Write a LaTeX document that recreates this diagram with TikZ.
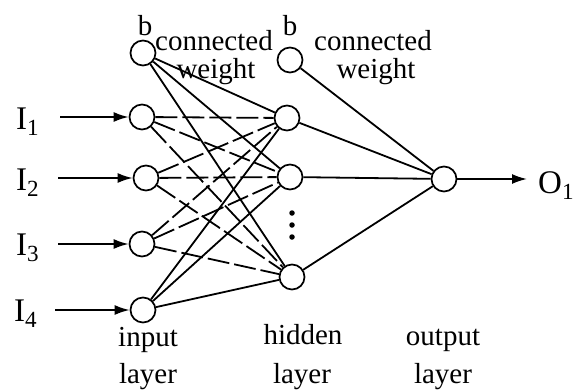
\documentclass[tikz,border=0pt]{standalone}
\usepackage{fontspec}
\setmainfont{Liberation Serif}
\usetikzlibrary{arrows.meta}
\begin{document}
\begin{tikzpicture}[x=1pt,y=-1pt,
  neuron/.style={circle,draw,line width=1.7pt,minimum size=25pt,inner sep=0pt},
  wire/.style={line width=1.8pt},
  brokenwire/.style={line width=1.8pt,dash pattern=on 22pt off 5pt},
  inarrow/.style={line width=1.8pt,-{Latex[length=15pt,width=10pt]}},
  dotmark/.style={circle,fill,minimum size=5.5pt,inner sep=0pt},
  lbl/.style={font=\fontsize{29}{31}\selectfont,inner sep=0pt,anchor=base},
  iolbl/.style={font=\fontsize{33}{35}\selectfont,inner sep=0pt,anchor=base west}]
\useasboundingbox (0,0) rectangle (573,391);
% input layer
\node[neuron] (b1) at (143,53) {};
\node[neuron] (i1) at (142,117) {};
\node[neuron] (i2) at (146,178) {};
\node[neuron] (i3) at (142,244) {};
\node[neuron] (i4) at (143,310) {};
% hidden layer
\node[neuron] (b2) at (290,60) {};
\node[neuron] (h1) at (287,118) {};
\node[neuron] (h2) at (290,177) {};
\node[neuron] (h3) at (292,277) {};
\node[dotmark] (d1) at (292,213) {};
\node[dotmark] (d2) at (292,225) {};
\node[dotmark] (d3) at (292,237) {};
% output layer
\node[neuron] (o) at (444,179) {};
% input arrows
\coordinate (s1) at (60,117);
\coordinate (s2) at (58,178);
\coordinate (s3) at (58,244);
\coordinate (s4) at (55,310);
\draw[inarrow] (s1) -- (i1);
\draw[inarrow] (s2) -- (i2);
\draw[inarrow] (s3) -- (i3);
\draw[inarrow] (s4) -- (i4);
\node[iolbl] (l1) at (16,129) {I\textsubscript{1}};
\node[iolbl] (l2) at (16,190) {I\textsubscript{2}};
\node[iolbl] (l3) at (16,255) {I\textsubscript{3}};
\node[iolbl] (l4) at (14,321) {I\textsubscript{4}};
% input -> hidden
\foreach \h in {h1,h2,h3} {
  \draw[wire] (b1) -- (\h);
  \draw[wire] (i4) -- (\h);
  \draw[brokenwire] (i1) -- (\h);
  \draw[brokenwire] (i2) -- (\h);
  \draw[brokenwire] (i3) -- (\h);
}
% hidden -> output
\foreach \h in {b2,h1,h2,h3} {
  \draw[wire] (\h) -- (o);
}
\coordinate (oend) at (527,179);
\draw[inarrow] (o) -- (oend);
\node[iolbl] (ol) at (538,193) {O\textsubscript{1}};
% top labels
\node[lbl] (tb1) at (145,35) {b};
\node[lbl] (tc1) at (214,50) {connected};
\node[lbl] (tw1) at (216,78) {weight};
\node[lbl] (tb2) at (290,35) {b};
\node[lbl] (tc2) at (373,50) {connected};
\node[lbl] (tw2) at (376,78) {weight};
% bottom labels
\node[lbl] (bi) at (148,346) {input};
\node[lbl] (bl1) at (148,383) {layer};
\node[lbl] (bh) at (303,344) {hidden};
\node[lbl] (bl2) at (302,383) {layer};
\node[lbl] (bo) at (443,345) {output};
\node[lbl] (bl3) at (443,383) {layer};
\end{tikzpicture}
\end{document}
